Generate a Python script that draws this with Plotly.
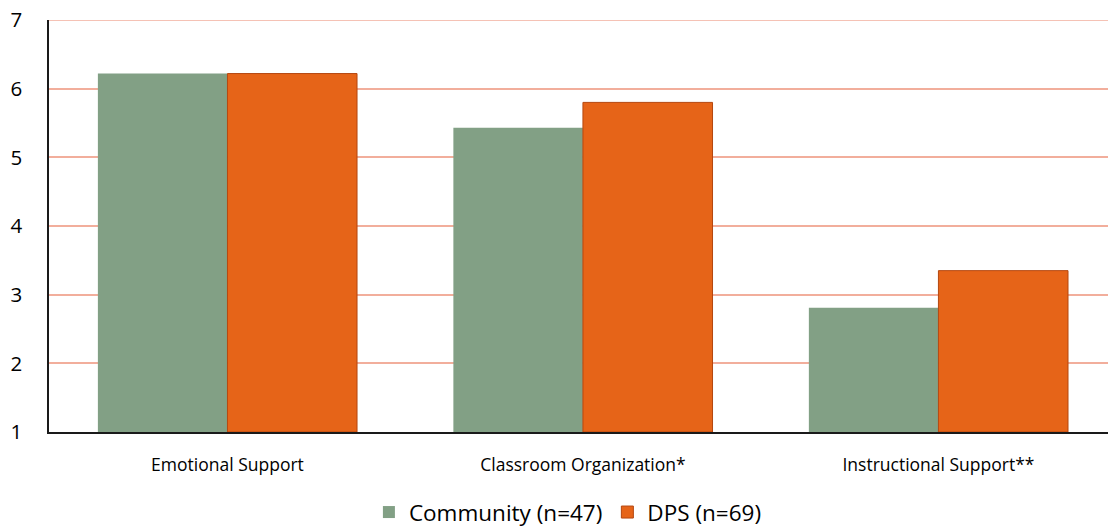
import plotly.graph_objects as go

categories = ["Emotional Support", "Classroom Organization*", "Instructional Support**"]
community = [6.22, 5.43, 2.81]
dps = [6.22, 5.80, 3.35]
y_ticks = [1, 2, 3, 4, 5, 6, 7]

fig = go.Figure()

# bars start at the axis floor of 1
fig.add_trace(
    go.Bar(
        x=categories,
        y=[v - 1 for v in community],
        base=1,
        name="Community (n=47)",
        marker=dict(color="#82A085", line=dict(width=0)),
    )
)

fig.add_trace(
    go.Bar(
        x=categories,
        y=[v - 1 for v in dps],
        base=1,
        name="DPS (n=69)",
        marker=dict(color="#E66418", line=dict(width=1, color="#B4470F")),
    )
)

# top gridline at 7 (plotly drops the one sitting on the plot edge)
fig.add_shape(
    type="line", xref="paper", x0=0, x1=1, yref="y", y0=y_ticks[-1], y1=y_ticks[-1],
    line=dict(color="#F2AE9C", width=1.6), layer="below",
)

fig.update_layout(
    width=1108,
    height=529,
    barmode="group",
    bargap=0.271,
    bargroupgap=0,
    plot_bgcolor="white",
    paper_bgcolor="white",
    margin=dict(l=49, r=0, t=20, b=97, autoexpand=False),
    font=dict(family="Open Sans, Liberation Sans, sans-serif", color="#000000"),
    legend=dict(
        orientation="h",
        x=0.49,
        xanchor="center",
        y=-0.143,
        yanchor="top",
        font=dict(size=22.5),
        traceorder="normal",
    ),
    showlegend=True,
)

fig.update_xaxes(
    automargin=False,
    range=[-0.502, 2.477],
    showline=True,
    linecolor="#1a1a1a",
    linewidth=1.5,
    showgrid=False,
    ticks="",
    tickfont=dict(size=17.5),
    ticklabelstandoff=16,
)

fig.update_yaxes(
    automargin=False,
    range=[1, 7],
    tickvals=y_ticks,
    showline=True,
    linecolor="#1a1a1a",
    linewidth=1.5,
    showgrid=True,
    gridcolor="#F2AE9C",
    gridwidth=1.6,
    zeroline=False,
    ticks="",
    tickfont=dict(size=20.5),
    ticklabelstandoff=21,
)

fig.write_html(
    "out.html",
    config={"displayModeBar": False},
    post_script="document.body.style.margin='0';",
)
